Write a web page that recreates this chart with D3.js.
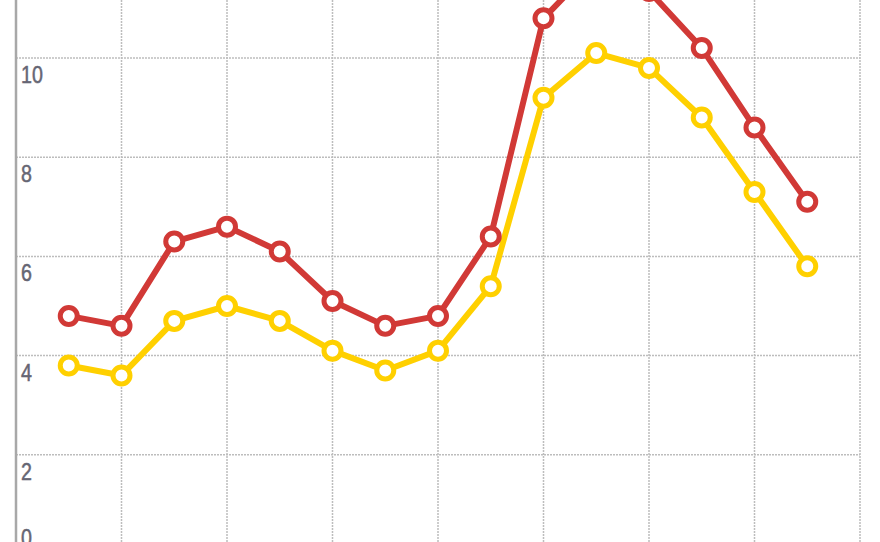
<!DOCTYPE html>
<html>
<head>
<meta charset="utf-8">
<script src="https://cdn.jsdelivr.net/npm/d3@7"></script>
<style>
  html, body { margin: 0; padding: 0; background: #ffffff; }
  svg { display: block; }
</style>
</head>
<body>
<svg id="chart" width="880" height="542"></svg>
<script>
// chart data
const categories = ["1", "2", "3", "4", "5", "6", "7", "8", "9", "10", "11", "12", "13", "14", "15"];
const redValues = [4.8, 4.6, 6.3, 6.6, 6.1, 5.1, 4.6, 4.8, 6.4, 10.8, 11.9, 11.35, 10.2, 8.6, 7.1];
const yellowValues = [3.8, 3.6, 4.7, 5.0, 4.7, 4.1, 3.7, 4.1, 5.4, 9.2, 10.1, 9.8, 8.8, 7.3, 5.8];
const yTicks = [0, 2, 4, 6, 8, 10];

const svg = d3.select("#chart");
const left = 16;
const right = 860;

// category index -> x, one empty slot each side
const x = d3.scaleLinear()
  .domain([-1, categories.length])
  .range([left, right]);

const y = d3.scaleLinear()
  .domain([0, 10])
  .range([554, 58]);

const gridColor = "#bdbdbd";

// vertical grid lines at every second category slot
const vLines = d3.range(1, categories.length + 1, 2);
svg.append("g")
  .selectAll("line")
  .data(vLines)
  .enter()
  .append("line")
  .attr("x1", (d) => x(d))
  .attr("x2", (d) => x(d))
  .attr("y1", 0)
  .attr("y2", 542)
  .attr("stroke", gridColor)
  .attr("stroke-width", 1.5)
  .attr("stroke-dasharray", "2,1");

// horizontal grid lines
svg.append("g")
  .selectAll("line")
  .data(yTicks)
  .enter()
  .append("line")
  .attr("x1", left)
  .attr("x2", right)
  .attr("y1", (d) => y(d))
  .attr("y2", (d) => y(d))
  .attr("stroke", gridColor)
  .attr("stroke-width", 1.5)
  .attr("stroke-dasharray", "2,1");

// left axis line
svg.append("line")
  .attr("x1", left)
  .attr("x2", left)
  .attr("y1", 0)
  .attr("y2", 542)
  .attr("stroke", "#a8a8a8")
  .attr("stroke-width", 2.5);

// tick labels sit under their line, the zero one above it
// (narrow face faked by squeezing Liberation Sans)
svg.append("g")
  .selectAll("text")
  .data(yTicks)
  .enter()
  .append("text")
  .attr("transform", (d) => `translate(21,${d === 0 ? y(d) - 8 : y(d) + 25}) scale(0.82,1)`)
  .style("font-family", "'Liberation Sans', Arial, sans-serif")
  .style("font-size", "24px")
  .style("fill", "#666674")
  .style("stroke", "#666674")
  .style("stroke-width", 0.5)
  .text((d) => d);

const line = d3.line()
  .x((_d, i) => x(i))
  .y((d) => y(d));

function drawSeries(values, color) {
  const g = svg.append("g");
  g.append("path")
    .datum(values)
    .attr("fill", "none")
    .attr("stroke", color)
    .attr("stroke-width", 6)
    .attr("stroke-linejoin", "round")
    .attr("d", line);

  g.selectAll("circle")
    .data(values)
    .enter()
    .append("circle")
    .attr("cx", (_d, i) => x(i))
    .attr("cy", (d) => y(d))
    .attr("r", 8.5)
    .attr("fill", "#ffffff")
    .attr("stroke", color)
    .attr("stroke-width", 5);
}

drawSeries(yellowValues, "#ffd000");
drawSeries(redValues, "#d13936");
</script>
</body>
</html>
